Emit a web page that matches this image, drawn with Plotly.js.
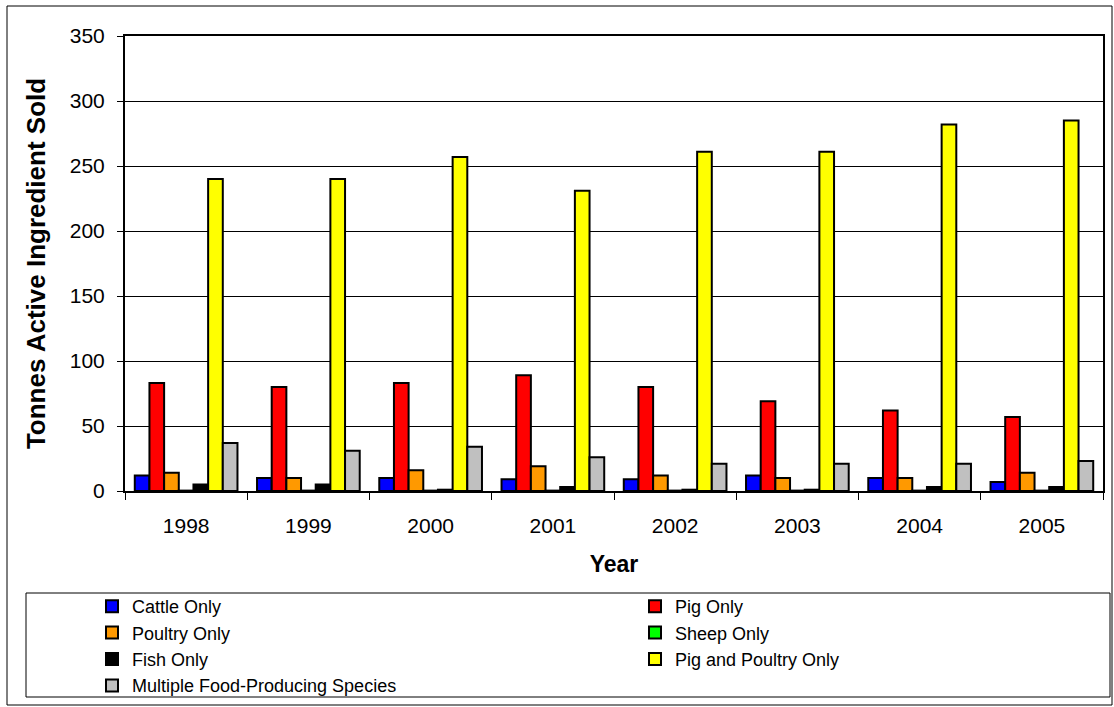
<!DOCTYPE html>
<html><head><meta charset="utf-8">
<script src="https://cdn.plot.ly/plotly-3.0.1.min.js"></script>
<style>body{margin:0;background:#fff}#c{width:1114px;height:707px}</style>
</head><body><div id="c"></div>
<script>
const years = ['1998','1999','2000','2001','2002','2003','2004','2005'];
const seriesNames = ['Cattle Only','Pig Only','Poultry Only','Sheep Only','Fish Only','Pig and Poultry Only','Multiple Food-Producing Species'];
const cattle   = [12, 10, 10, 9, 9, 12, 10, 7];
const pig      = [83, 80, 83, 89, 80, 69, 62, 57];
const poultry  = [14, 10, 16, 19, 12, 10, 10, 14];
const sheep    = [0.3, 0.3, 0.3, 0.3, 0.3, 0.3, 0.3, 0.3];
const fish     = [5, 5, 1, 3, 1, 1, 3, 3];
const pigPoultry = [240, 240, 257, 231, 261, 261, 282, 285];
const multiple = [37, 31, 34, 26, 21, 21, 21, 23];
const colors = ['#0000FF','#FF0000','#FF9900','#00FF00','#000000','#FFFF00','#C0C0C0'];
const values = [cattle, pig, poultry, sheep, fish, pigPoultry, multiple];

const data = values.map((v,i)=>({
  type:'bar', name: seriesNames[i], x: years, y: v,
  marker:{color: colors[i], line:{color:'#000', width:2}},
  hoverinfo:'y'
}));

const W=978, H=455, L=125, T=36;
const px = x => (x-L)/W;
const py = y => (T+H-y)/H;

const layout = {
  width:1114, height:707,
  margin:{l:125, r:11, t:36, b:216, autoexpand:false},
  paper_bgcolor:'#fff', plot_bgcolor:'#fff',
  font:{family:'Liberation Sans, Arial, sans-serif', size:21, color:'#000'},
  barmode:'group', bargap:0.16, bargroupgap:0,
  xaxis:{type:'category', tickson:'boundaries', ticks:'outside', ticklen:7, tickcolor:'#000', tickwidth:1,
    showline:true, linecolor:'#000', linewidth:2, mirror:true, showgrid:false,
    tickfont:{size:21}, ticklabelstandoff:15, automargin:false,
    title:{text:'<b>Year</b>', font:{size:23}, standoff:20}},
  yaxis:{range:[0,350], dtick:50, ticks:'outside', ticklen:6, tickcolor:'#000', tickwidth:1,
    showline:true, linecolor:'#000', linewidth:2, mirror:true,
    showgrid:true, gridcolor:'#000', gridwidth:1, zeroline:false,
    tickfont:{size:21}, ticklabelstandoff:8, automargin:false,
    title:{text:'<b>Tonnes Active Ingredient Sold</b>', font:{size:26}, standoff:17}},
  showlegend:true,
  legend:{orientation:'h', x:px(92), xanchor:'left', y:py(588), yanchor:'top',
    entrywidth:498, entrywidthmode:'pixels', font:{size:18}, bgcolor:'rgba(0,0,0,0)',
    itemclick:false, tracegroupgap:0, traceorder:'normal'},
  shapes:[
    {type:'rect', xref:'paper', yref:'paper', x0:px(7), x1:px(1112), y0:py(705), y1:py(6),
      line:{color:'#000', width:1}, layer:'below'},
    {type:'rect', xref:'paper', yref:'paper', x0:px(26), x1:px(1110), y0:py(697), y1:py(593),
      line:{color:'#000', width:1}, layer:'below'}
  ]
};
Plotly.newPlot('c', data, layout, {staticPlot:true});
</script></body></html>
